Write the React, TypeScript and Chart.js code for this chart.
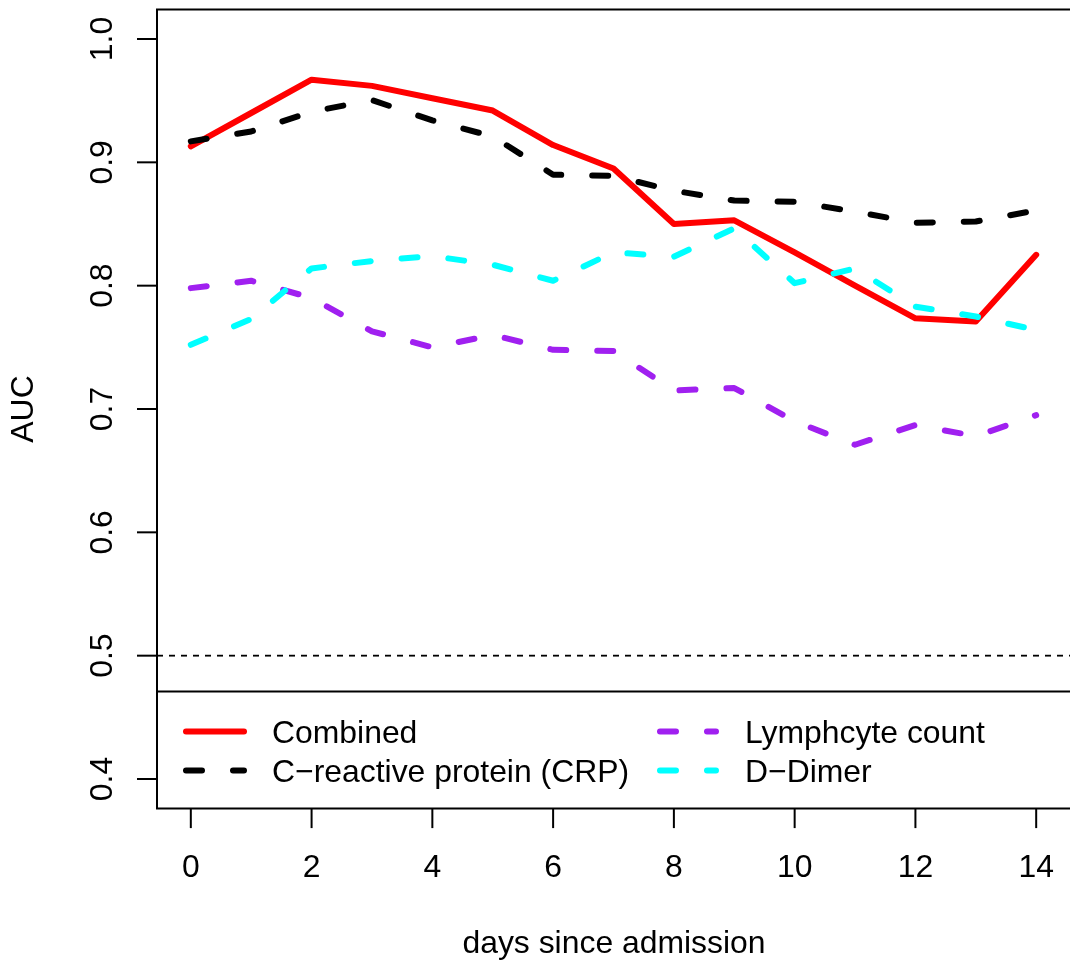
import React, { useEffect, useRef } from "react";
import { Chart, registerables } from "chart.js";

Chart.register(...registerables);

// ---------- DATA ----------
const days = [0, 1, 2, 3, 4, 5, 6, 7, 8, 9, 10, 11, 12, 13, 14];
const combined = [0.913, 0.940, 0.967, 0.962, 0.952, 0.942, 0.914, 0.895, 0.850, 0.853, 0.827, 0.800, 0.7735, 0.771, 0.825];
const crp = [0.917, 0.925, 0.941, 0.9505, 0.934, 0.921, 0.890, 0.889, 0.877, 0.869, 0.868, 0.860, 0.851, 0.852, 0.861];
const lymphocyte = [0.798, 0.804, 0.790, 0.763, 0.750, 0.760, 0.748, 0.747, 0.715, 0.717, 0.690, 0.671, 0.687, 0.678, 0.695];
const dDimer = [0.752, 0.773, 0.814, 0.820, 0.824, 0.817, 0.804, 0.827, 0.8235, 0.8465, 0.802, 0.814, 0.783, 0.775, 0.764];

const seriesLabels = ["Combined", "C\u2212reactive protein (CRP)", "Lymphcyte count", "D\u2212Dimer"];
const xTicks = [0, 2, 4, 6, 8, 10, 12, 14];
const yTicks = [0.4, 0.5, 0.6, 0.7, 0.8, 0.9, 1.0];
const yTickLabels = ["0.4", "0.5", "0.6", "0.7", "0.8", "0.9", "1.0"];
const referenceLine = 0.5;
const xTitle = "days since admission";
const yTitle = "AUC";

// ---------- STYLE ----------
const FONT = '31.9px "Liberation Sans", Arial, Helvetica, sans-serif';
const LW = 6;
const DASH = [16, 31];

const rPlot = {
  id: "rPlot",
  beforeDatasetsDraw(chart: any) {
    const { ctx, chartArea, scales } = chart;
    const y = scales.y.getPixelForValue(referenceLine);
    ctx.save();
    ctx.strokeStyle = "#000";
    ctx.lineWidth = 1.8;
    ctx.setLineDash([6, 6]);
    ctx.beginPath();
    ctx.moveTo(chartArea.left, y);
    ctx.lineTo(chartArea.right + 2, y);
    ctx.stroke();
    ctx.restore();
  },
  afterDatasetsDraw(chart: any) {
    const { ctx, chartArea, scales } = chart;
    const L = chartArea.left;
    const T = chartArea.top;
    const B = chartArea.bottom;
    const R = chartArea.right + 2;
    ctx.save();

    // legend box
    const legTop = 691.5;
    ctx.fillStyle = "#fff";
    ctx.fillRect(L, legTop, R - L, B - legTop);
    ctx.strokeStyle = "#000";
    ctx.lineWidth = 2;
    ctx.setLineDash([]);
    ctx.beginPath();
    ctx.moveTo(R, legTop);
    ctx.lineTo(L, legTop);
    ctx.stroke();

    const ds = chart.data.datasets;
    const cols = [
      { x1: 186, x2: 244, tx: 272 },
      { x1: 660, x2: 716, tx: 745 },
    ];
    const rows = [731.5, 770.5];
    ctx.font = FONT;
    ctx.textAlign = "left";
    ctx.textBaseline = "alphabetic";
    ds.forEach((d: any, i: number) => {
      const c = cols[Math.floor(i / 2)];
      const ry = rows[i % 2];
      ctx.save();
      ctx.strokeStyle = d.borderColor;
      ctx.lineWidth = LW;
      ctx.lineCap = "round";
      ctx.setLineDash(d.borderDash || []);
      ctx.beginPath();
      ctx.moveTo(c.x1, ry);
      ctx.lineTo(c.x2, ry);
      ctx.stroke();
      ctx.restore();
      ctx.fillStyle = "#000";
      ctx.fillText(d.label, c.tx, ry + 11);
    });

    // frame
    ctx.strokeStyle = "#000";
    ctx.lineWidth = 2;
    ctx.setLineDash([]);
    ctx.beginPath();
    ctx.moveTo(R, T);
    ctx.lineTo(L, T);
    ctx.lineTo(L, B);
    ctx.lineTo(R, B);
    ctx.stroke();

    // y axis ticks + labels
    ctx.fillStyle = "#000";
    ctx.font = FONT;
    yTicks.forEach((v, i) => {
      const py = scales.y.getPixelForValue(v);
      ctx.beginPath();
      ctx.moveTo(L, py);
      ctx.lineTo(L - 20, py);
      ctx.stroke();
      ctx.save();
      ctx.translate(112, py);
      ctx.rotate(-Math.PI / 2);
      ctx.textAlign = "center";
      ctx.textBaseline = "alphabetic";
      ctx.fillText(yTickLabels[i], 0, 0);
      ctx.restore();
    });

    // x axis ticks + labels
    ctx.textAlign = "center";
    ctx.textBaseline = "alphabetic";
    xTicks.forEach((v) => {
      const px = scales.x.getPixelForValue(v);
      ctx.beginPath();
      ctx.moveTo(px, B);
      ctx.lineTo(px, B + 19.5);
      ctx.stroke();
      ctx.fillText(String(v), px, 877);
    });

    // titles
    ctx.fillText(xTitle, (L + 1071) / 2, 953);
    ctx.save();
    ctx.translate(33, (T + B) / 2);
    ctx.rotate(-Math.PI / 2);
    ctx.textAlign = "center";
    ctx.fillText(yTitle, 0, 0);
    ctx.restore();

    ctx.restore();
  },
};

function toPoints(vals: number[]) {
  return days.map((d, i) => ({ x: d, y: vals[i] }));
}

export default function App() {
  const ref = useRef<HTMLCanvasElement | null>(null);
  useEffect(() => {
    if (!ref.current) return;
    const mk = (label: string, vals: number[], color: string, dash: number[], order: number) => ({
      label,
      data: toPoints(vals),
      borderColor: color,
      backgroundColor: color,
      borderWidth: LW,
      borderDash: dash,
      borderCapStyle: "round",
      borderJoinStyle: "round",
      pointRadius: 0,
      tension: 0,
      fill: false,
      order,
    });
    const chart = new Chart(ref.current, {
      type: "line",
      data: {
        datasets: [
          mk(seriesLabels[0], combined, "#FF0000", [], 4),
          mk(seriesLabels[1], crp, "#000000", DASH, 3),
          mk(seriesLabels[2], lymphocyte, "#A020F0", DASH, 2),
          mk(seriesLabels[3], dDimer, "#00FFFF", DASH, 1),
        ] as any,
      },
      options: {
        animation: false,
        responsive: false,
        devicePixelRatio: 1,
        layout: { padding: { left: 157, top: 9.4, right: 0, bottom: 151.4 } },
        plugins: { legend: { display: false }, tooltip: { enabled: false } },
        events: [],
        scales: {
          x: { type: "linear", min: -0.56, max: 14.56, display: false },
          y: { type: "linear", min: 0.376, max: 1.024, display: false },
        },
      },
      plugins: [rPlot],
    });
    return () => chart.destroy();
  }, []);
  return (
    <div style={{ position: "fixed", left: 0, top: 0, width: 1070, height: 960, background: "#fff" }}>
      <canvas ref={ref} width={1070} height={960} style={{ width: 1070, height: 960, display: "block" }} />
    </div>
  );
}
